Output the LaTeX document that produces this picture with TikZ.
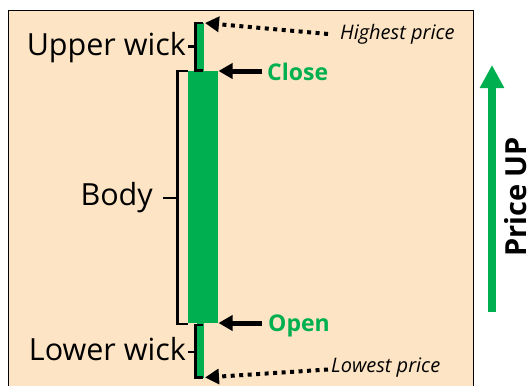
\documentclass[tikz,border=0pt]{standalone}
\usepackage{fontspec}
\setmainfont{Open Sans}
\usetikzlibrary{arrows.meta}
\definecolor{bg}{RGB}{253,228,196}
\definecolor{cgreen}{RGB}{0,176,80}
\tikzset{
  lbl/.style={inner sep=0pt, font=\fontsize{30.5}{32}\selectfont},
  pricelbl/.style={inner sep=0pt, font=\fontsize{20}{22}\selectfont\itshape},
  oclbl/.style={inner sep=0pt, text=cgreen, font=\fontsize{23}{25}\selectfont\bfseries},
  brace/.style={line width=2.1pt, black},
  solidarrow/.style={line width=5pt, -{Triangle[length=14pt,width=15pt]}},
  dotarrow/.style={line width=4pt, dash pattern=on 4pt off 4.5pt, -{Triangle[length=14pt,width=15pt]}},
}
\begin{document}
\begin{tikzpicture}[x=1pt,y=-1pt]
\useasboundingbox (0,0) rectangle (531,386);
\fill[white] (0,0) rectangle (531,386);
\draw[fill=bg, line width=1pt] (8,10) rectangle (473.5,392);
% candle
\node[fill=cgreen, inner sep=0pt, minimum width=30pt, minimum height=252pt] (body) at (203,197) {};
\node[fill=cgreen, inner sep=0pt, minimum width=7pt, minimum height=48pt] (uwick) at (200.5,47) {};
\node[fill=cgreen, inner sep=0pt, minimum width=7pt, minimum height=55pt] (lwick) at (200.5,350.5) {};
% brackets
\draw[brace] (203,23) -- (195.5,23) -- (195.5,70.5) -- (203,70.5);
\draw[brace] (195.5,46.5) -- (188,46.5);
\draw[brace] (188,71) -- (177.5,71) -- (177.5,324) -- (188,324);
\draw[brace] (177.5,198) -- (163,198);
\draw[brace] (203,325) -- (195.5,325) -- (195.5,377.5) -- (203,377.5);
\draw[brace] (195.5,352) -- (188,352);
% labels
\node[lbl, anchor=base east] (ulbl) at (186,55) {Upper wick};
\node[lbl, anchor=base east] (blbl) at (153,205) {Body};
\node[lbl, anchor=base east] (llbl) at (186,360) {Lower wick};
\node[pricelbl, anchor=base west] (hp) at (340,39) {Highest price};
\node[pricelbl, anchor=base west] (lp) at (331,372) {Lowest price};
\node[oclbl, anchor=base west] (close) at (267,80) {Close};
\node[oclbl, anchor=base west] (open) at (268,331) {Open};
% arrows
\coordinate (hptip) at (205,23);
\coordinate (lptip) at (205,377.5);
\coordinate (cltip) at (218.5,71);
\coordinate (optip) at (218.5,323);
\draw[dotarrow] (328,34) -- (hptip);
\draw[dotarrow] (328,369.5) -- (lptip);
\draw[solidarrow] (262,71) -- (cltip);
\draw[solidarrow] (262,323) -- (optip);
% price up
\coordinate (pu0) at (492,312);
\coordinate (pu1) at (492,65);
\draw[cgreen, line width=8pt, -{Triangle[length=23pt,width=23pt]}] (pu0) -- (pu1);
\node[inner sep=0pt, rotate=90, font=\fontsize{29}{31}\selectfont\bfseries] (pulbl) at (516,197) {Price UP};
\end{tikzpicture}
\end{document}
